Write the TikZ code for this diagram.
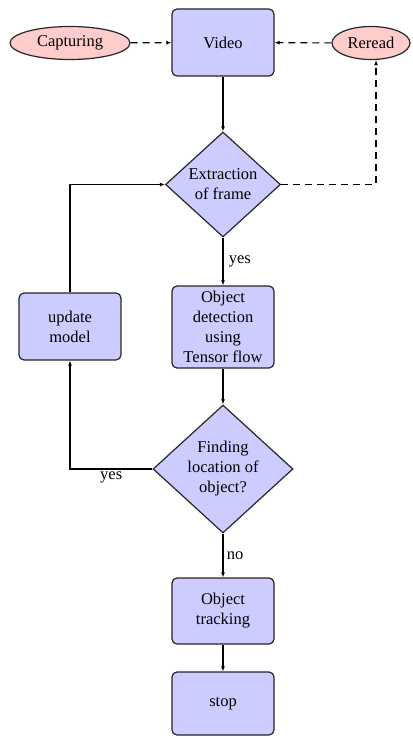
\documentclass[tikz,border=0pt]{standalone}
\usepackage{fontspec}
\setmainfont{Liberation Serif}
\usetikzlibrary{shapes.geometric,arrows.meta}
\begin{document}
\begin{tikzpicture}[x=1pt,y=-1pt,
  txt/.style={font=\fontsize{16.5}{20}\selectfont},
  box/.style={txt, draw=black!85, line width=1.2pt, fill=blue!20, rounded corners=5pt, minimum width=102pt, align=center, inner sep=0pt},
  dec/.style={txt, diamond, draw=black!85, line width=1.2pt, fill=blue!20, align=center, inner sep=0pt},
  oval/.style={txt, ellipse, draw=black!85, line width=1.2pt, fill=red!20, inner sep=0pt},
  arr/.style={-{Latex[length=5pt,width=4pt]}, line width=1.1pt},
  dsh/.style={arr, dash pattern=on 7pt off 5pt}]
\useasboundingbox (0,0) rectangle (412,738);
\node[oval, minimum width=120pt, minimum height=33pt] (cap) at (70,43) {Capturing};
\node[box, minimum height=67pt] (video) at (223,42.5) {Video};
\node[oval, minimum width=78pt, minimum height=33pt] (reread) at (371,43) {Reread};
\node[dec, minimum width=115pt, minimum height=105pt] (extract) at (223,184.5) {Extraction\\of frame};
\node[box, minimum height=82pt] (detect) at (223,327) {Object\\detection\\using\\Tensor flow};
\node[box, minimum height=67pt] (update) at (70,326.5) {update\\model};
\node[dec, minimum width=140pt, minimum height=128pt] (find) at (223,469) {Finding\\location of\\object?};
\node[box, minimum height=66pt] (track) at (223,611) {Object\\tracking};
\node[box, minimum height=63pt] (stop) at (223,703.5) {stop};
\draw[dsh] (cap) -- (video);
\draw[dsh] (reread) -- (video);
\draw[dsh] (extract.east) -| ([xshift=5pt]reread.south);
\draw[arr] (video) -- (extract);
\draw[arr] (extract) -- node[txt, right, pos=0.5, xshift=2pt] {yes} (detect);
\draw[arr] (detect) -- (find);
\draw[arr] (find.west) -| node[txt, pos=0.25, below, yshift=1pt] {yes} (update.south);
\draw[arr] (update.north) |- (extract.west);
\draw[arr] (find) -- node[txt, right] {no} (track);
\draw[arr] (track) -- (stop);
\end{tikzpicture}
\end{document}
